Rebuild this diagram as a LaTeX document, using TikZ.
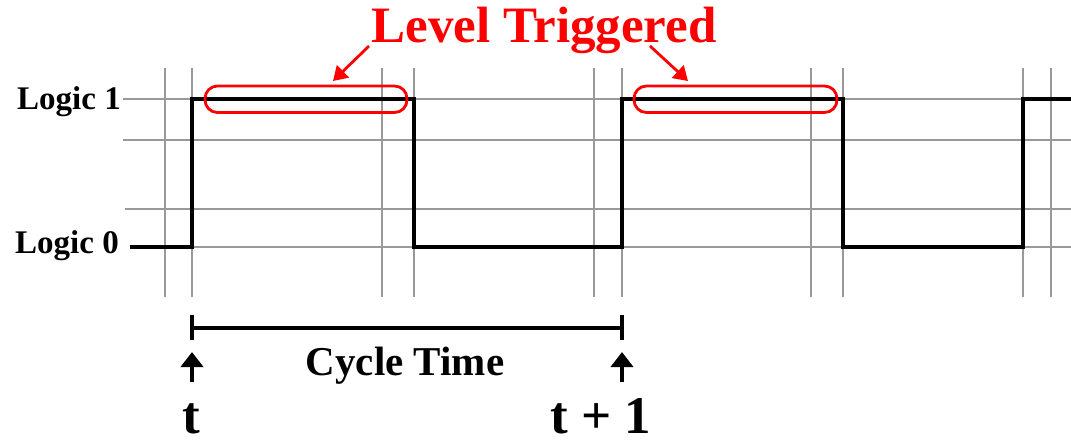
\documentclass[tikz,border=0pt]{standalone}
\usepackage{fontspec}
\setmainfont{Liberation Serif}
\usetikzlibrary{arrows.meta}
\begin{document}
\begin{tikzpicture}[x=1pt,y=-1pt,
  grid/.style={draw=black!40, line width=1.6pt},
  signal/.style={draw=black, line width=3.6pt, line join=miter},
  hilite/.style={draw=red, line width=2.8pt, rounded corners=12.5pt},
  redarrow/.style={draw=red, line width=2.8pt, -{Triangle[width=17pt,length=14pt]}},
  uparrow/.style={draw=black, line width=4.5pt, -{Triangle[width=22pt,length=15pt]}},
  lbl/.style={font=\bfseries\fontsize{33}{33}\selectfont, inner sep=0pt},
  big/.style={font=\bfseries\fontsize{53}{53}\selectfont, inner sep=0pt, text depth=0pt}]
\useasboundingbox (0,0) rectangle (1071,440);
% grid
\foreach \x in {165,192,382,414,594,622,811,843,1023,1051}
  \draw[grid] (\x,68) -- (\x,297);
\draw[grid] (123,99) -- (1071,99);
\draw[grid] (123,140) -- (1071,140);
\draw[grid] (125,209) -- (1071,209);
\draw[grid] (130,247) -- (1071,247);
% signal
\draw[signal] (130,247) -- (192,247) -- (192,99) -- (414,99) -- (414,247) -- (622,247) -- (622,99) -- (843,99) -- (843,247) -- (1023,247) -- (1023,99) -- (1071,99);
% labels
\node[lbl, anchor=base east] (l1) at (121,109) {Logic 1};
\node[lbl, anchor=base east] (l0) at (119,253) {Logic 0};
% highlights
\draw[hilite] (205,86) rectangle (407,112.5);
\draw[hilite] (634,86) rectangle (837,112.5);
\node[font=\bfseries\fontsize{51}{51}\selectfont, text=red, inner sep=0pt, anchor=base] (lt) at (544,42) {Level Triggered};
\coordinate (la) at (369,46);
\coordinate (ra) at (650,46);
\coordinate (lt1) at (333,81);
\coordinate (rt1) at (688,81);
\draw[redarrow] (la) -- (lt1);
\draw[redarrow] (ra) -- (rt1);
% cycle time
\draw[draw=black, line width=4pt] (192,328) -- (622,328);
\draw[draw=black, line width=4.5pt] (192,315) -- (192,340);
\draw[draw=black, line width=4.5pt] (622,315) -- (622,340);
\coordinate (a1s) at (192,382);
\coordinate (a1e) at (192,352);
\coordinate (a2s) at (622,382);
\coordinate (a2e) at (622,352);
\draw[uparrow] (a1s) -- (a1e);
\draw[uparrow] (a2s) -- (a2e);
\node[font=\bfseries\fontsize{41}{41}\selectfont, inner sep=0pt, anchor=base] (ct) at (405,375) {Cycle Time};
\node[big, anchor=base] (t) at (191,433) {t};
\node[big, anchor=base] (t1) at (601,433) {t + 1};
\end{tikzpicture}
\end{document}
